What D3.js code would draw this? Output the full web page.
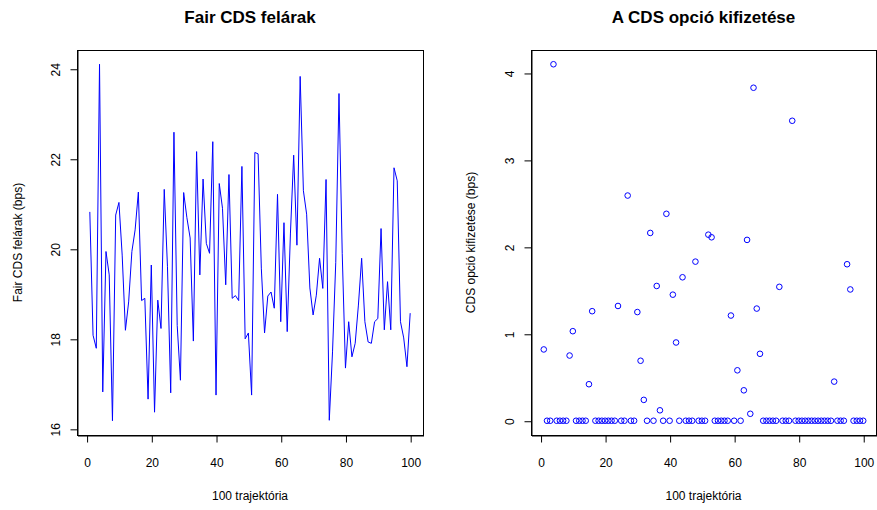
<head>
<meta charset="utf-8">
<script src="https://d3js.org/d3.v7.min.js"></script>
<style type="text/css">
	body {
		margin: 0;
		background-color: #fff;
	}
	text {
		font-family: "Liberation Sans", Arial, sans-serif;
		fill: #000;
	}
	.cim {
		font-size: 17px;
		font-weight: bold;
	}
	.tengely {
		font-size: 12px;
	}
</style>
</head>

<body>
<section id="grafikon"></section>

<script>

// 100 trajektória, mindkét panel ugyanazt az indexet használja
var trajektoria = [1,2,3,4,5,6,7,8,9,10,11,12,13,14,15,16,17,18,19,20,
	21,22,23,24,25,26,27,28,29,30,31,32,33,34,35,36,37,38,39,40,
	41,42,43,44,45,46,47,48,49,50,51,52,53,54,55,56,57,58,59,60,
	61,62,63,64,65,66,67,68,69,70,71,72,73,74,75,76,77,78,79,80,
	81,82,83,84,85,86,87,88,89,90,91,92,93,94,95,96,97,98,99,100];

// fair CDS felárak (bps), leolvasva
var felarak = [20.82,18.08,17.79,24.10,16.82,19.94,19.42,16.18,20.75,21.03,
	19.86,18.19,18.82,19.94,20.42,21.26,18.85,18.90,16.66,19.64,
	16.37,18.86,18.23,21.32,19.60,16.80,22.59,18.30,17.08,21.25,
	20.69,20.24,17.95,22.16,19.42,21.55,20.12,19.90,22.38,16.75,
	21.45,20.90,19.20,21.65,18.90,18.96,18.85,21.83,18.00,18.13,
	16.75,22.14,22.11,19.57,18.13,18.95,19.04,18.68,21.21,18.38,
	20.58,18.16,20.35,22.08,20.08,23.83,21.29,20.77,19.13,18.53,
	18.97,19.79,19.12,21.54,16.19,17.71,19.70,23.45,19.90,17.35,
	18.38,17.60,17.90,18.75,19.79,18.38,17.93,17.90,18.38,18.45,
	20.45,18.20,19.27,18.20,21.80,21.51,18.38,18.02,17.38,18.57];

// CDS opció kifizetése (bps)
var kifizetes = [0.82,0,0,4.10,0,0,0,0,0.75,1.03,
	0,0,0,0,0.42,1.26,0,0,0,0,
	0,0,0,1.32,0,0,2.59,0,0,1.25,
	0.69,0.24,0,2.16,0,1.55,0.12,0,2.38,0,
	1.45,0.90,0,1.65,0,0,0,1.83,0,0,
	0,2.14,2.11,0,0,0,0,0,1.21,0,
	0.58,0,0.35,2.08,0.08,3.83,1.29,0.77,0,0,
	0,0,0,1.54,0,0,0,3.45,0,0,
	0,0,0,0,0,0,0,0,0,0,
	0.45,0,0,0,1.80,1.51,0,0,0,0];

var xTicks = [0,20,40,60,80,100];
var yTicksBal = [16,18,20,22,24];
var yTicksJobb = [0,1,2,3,4];

var W = 877, H = 510;

var svg = d3.select('#grafikon').append('svg')
	.attr('width', W)
	.attr('height', H)
	.attr('style', 'display:block; background-color:#fff');

// R szerű tengelytartomány: 4% ráhagyás mindkét oldalon
function rKiterjeszt(lo, hi) {
	var d = (hi - lo) * 0.04;
	return [lo - d, hi + d];
}

function Panel(opts) {
	var x = d3.scaleLinear()
		.domain(rKiterjeszt(1, 100))
		.range([opts.left, opts.right]);
	var y = d3.scaleLinear()
		.domain(rKiterjeszt(d3.min(opts.values), d3.max(opts.values)))
		.range([opts.bottom, opts.top]);

	var g = svg.append('g');

	// adatok
	if (opts.tipus == 'line') {
		var vonal = d3.line()
			.x(function (d, i) { return x(trajektoria[i]); })
			.y(function (d) { return y(d); });
		g.append('path')
			.datum(opts.values)
			.attr('d', vonal)
			.attr('fill', 'none')
			.attr('stroke', '#0000ff')
			.attr('stroke-width', 1);
	} else {
		g.selectAll('circle')
			.data(opts.values)
			.enter().append('circle')
			.attr('cx', function (d, i) { return x(trajektoria[i]); })
			.attr('cy', function (d) { return y(d); })
			.attr('r', 2.8)
			.attr('fill', 'none')
			.attr('stroke', '#0000ff')
			.attr('stroke-width', 1);
	}

	// keret
	g.append('rect')
		.attr('x', opts.left + 0.5)
		.attr('y', opts.top + 0.5)
		.attr('width', opts.right - opts.left)
		.attr('height', opts.bottom - opts.top)
		.attr('fill', 'none')
		.attr('stroke', '#000')
		.attr('stroke-width', 1);

	// x tengely
	var xAxis = d3.axisBottom(x).tickValues(xTicks).tickSize(7).tickSizeOuter(0);
	var gx = g.append('g')
		.attr('transform', 'translate(0.5,' + (opts.bottom + 0.5) + ')')
		.call(xAxis);
	gx.select('.domain').attr('stroke', '#000');
	gx.selectAll('.tick line').attr('stroke', '#000');
	gx.selectAll('.tick text')
		.attr('y', 0)
		.attr('dy', 31 + 'px')
		.style('font-size', '12px')
		.style('font-family', '"Liberation Sans", Arial, sans-serif')
		.attr('fill', '#000');

	// y tengely, a feliratok R módra elforgatva
	var yAxis = d3.axisLeft(y).tickValues(opts.yTicks).tickSize(7).tickSizeOuter(0)
		.tickFormat(d3.format('d'));
	var gy = g.append('g')
		.attr('transform', 'translate(' + (opts.left + 0.5) + ',0.5)')
		.call(yAxis);
	gy.select('.domain').attr('stroke', '#000');
	gy.selectAll('.tick line').attr('stroke', '#000');
	gy.selectAll('.tick text')
		.attr('x', 0)
		.attr('dy', 0)
		.attr('transform', 'translate(-18,0) rotate(-90)')
		.attr('text-anchor', 'middle')
		.style('font-size', '12px')
		.style('font-family', '"Liberation Sans", Arial, sans-serif')
		.attr('fill', '#000');

	// címek
	var kozep = (opts.left + opts.right) / 2;
	svg.append('text')
		.attr('class', 'cim')
		.attr('x', kozep)
		.attr('y', 23)
		.attr('text-anchor', 'middle')
		.text(opts.cim);

	svg.append('text')
		.attr('class', 'tengely')
		.attr('x', kozep)
		.attr('y', 500)
		.attr('text-anchor', 'middle')
		.text('100 trajektória');

	svg.append('text')
		.attr('class', 'tengely')
		.attr('transform', 'translate(' + opts.ylabX + ',' + ((opts.top + opts.bottom) / 2) + ') rotate(-90)')
		.attr('text-anchor', 'middle')
		.text(opts.ylab);
}

Panel({
	left: 77, right: 423, top: 50, bottom: 435,
	values: felarak, tipus: 'line', yTicks: yTicksBal,
	cim: 'Fair CDS felárak', ylab: 'Fair CDS felárak (bps)', ylabX: 22
});

Panel({
	left: 531, right: 876, top: 50, bottom: 435,
	values: kifizetes, tipus: 'points', yTicks: yTicksJobb,
	cim: 'A CDS opció kifizetése', ylab: 'CDS opció kifizetése (bps)', ylabX: 475
});

</script>
</body>
